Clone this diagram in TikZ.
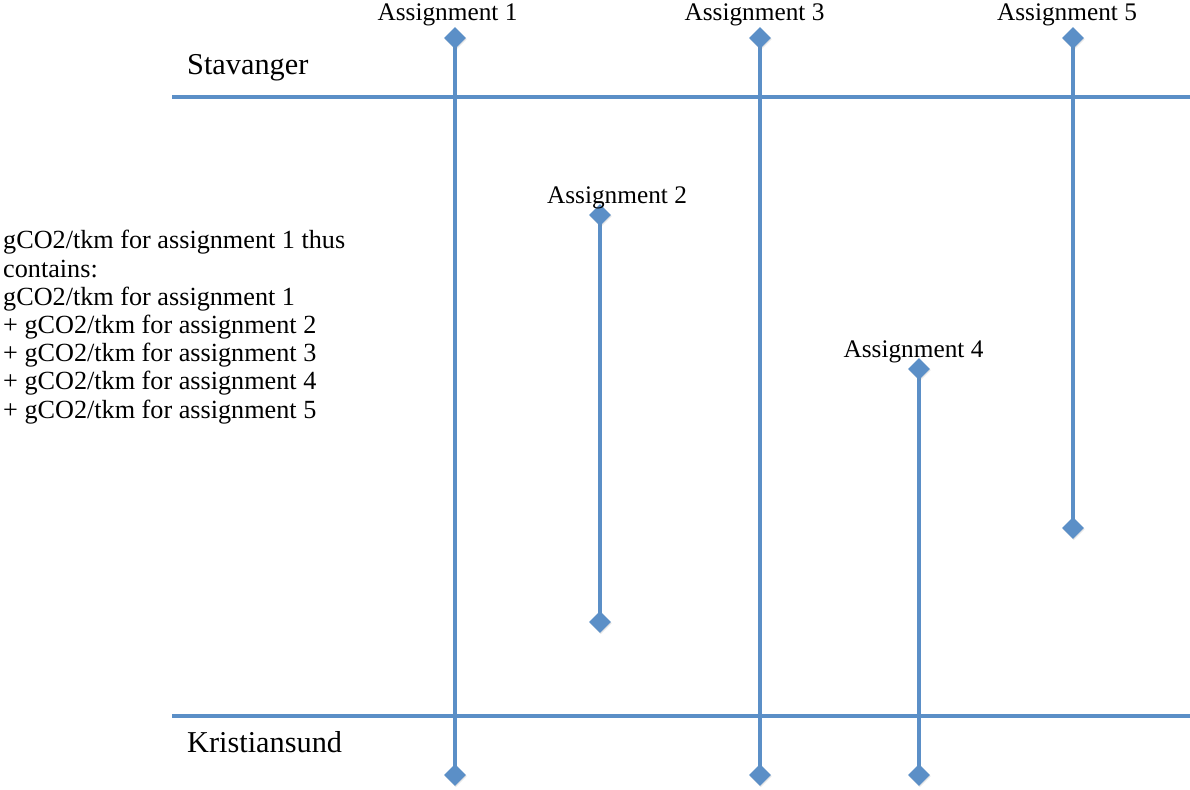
\documentclass[tikz,border=0pt]{standalone}
\usepackage{fontspec}
\setmainfont{Liberation Serif}
\usetikzlibrary{shapes.geometric,backgrounds,shadows}
\definecolor{lineblue}{RGB}{91,143,199}
\tikzset{
  x=1pt, y=-1pt,
  endmark/.style={diamond, fill=lineblue, draw=none, inner sep=0pt, minimum size=22pt,
    drop shadow={opacity=0.2, shadow xshift=0.8pt, shadow yshift=-1.2pt}},
  track/.style={draw=lineblue, line width=4.5pt},
  cityline/.style={draw=lineblue, line width=4pt},
  alabel/.style={anchor=base, font=\fontsize{25.3}{29}\selectfont, inner sep=0pt},
  city/.style={anchor=base west, font=\fontsize{30.3}{34}\selectfont, inner sep=0pt},
}
\begin{document}
\begin{tikzpicture}
\useasboundingbox (0,0) rectangle (1190,789);
% city lines
\coordinate (sL) at (172,97);
\coordinate (sR) at (1190,97);
\coordinate (kL) at (172,716);
\coordinate (kR) at (1190,716);
% end marks
\node[endmark] (a1t) at (455,38) {};
\node[endmark] (a1b) at (455,775) {};
\node[endmark] (a2t) at (600,215) {};
\node[endmark] (a2b) at (600,622) {};
\node[endmark] (a3t) at (760,38) {};
\node[endmark] (a3b) at (760,775) {};
\node[endmark] (a4t) at (919,369) {};
\node[endmark] (a4b) at (919,775) {};
\node[endmark] (a5t) at (1073,38) {};
\node[endmark] (a5b) at (1073,528) {};
\begin{pgfonlayer}{background}
\draw[cityline] (sL) -- (sR);
\draw[cityline] (kL) -- (kR);
\draw[track] (a1t.center) -- (a1b.center);
\draw[track] (a2t.center) -- (a2b.center);
\draw[track] (a3t.center) -- (a3b.center);
\draw[track] (a4t.center) -- (a4b.center);
\draw[track] (a5t.center) -- (a5b.center);
\end{pgfonlayer}
% labels
\node[alabel] (l1) at (447.5,21) {Assignment 1};
\node[alabel] (l2) at (617,203) {Assignment 2};
\node[alabel] (l3) at (754.5,21) {Assignment 3};
\node[alabel] (l4) at (913.5,357) {Assignment 4};
\node[alabel] (l5) at (1067,21) {Assignment 5};
\node[city] (stav) at (187,75) {Stavanger};
\node[city] (kris) at (187,752) {Kristiansund};
\node[anchor=base west, inner sep=0pt, align=left, font=\fontsize{26.2}{28.2}\selectfont] (note) at (3,418)
{gCO2/tkm for assignment 1 thus\\
contains:\\
gCO2/tkm for assignment 1\\
+ gCO2/tkm for assignment 2\\
+ gCO2/tkm for assignment 3\\
+ gCO2/tkm for assignment 4\\
+ gCO2/tkm for assignment 5};
\end{tikzpicture}
\end{document}
